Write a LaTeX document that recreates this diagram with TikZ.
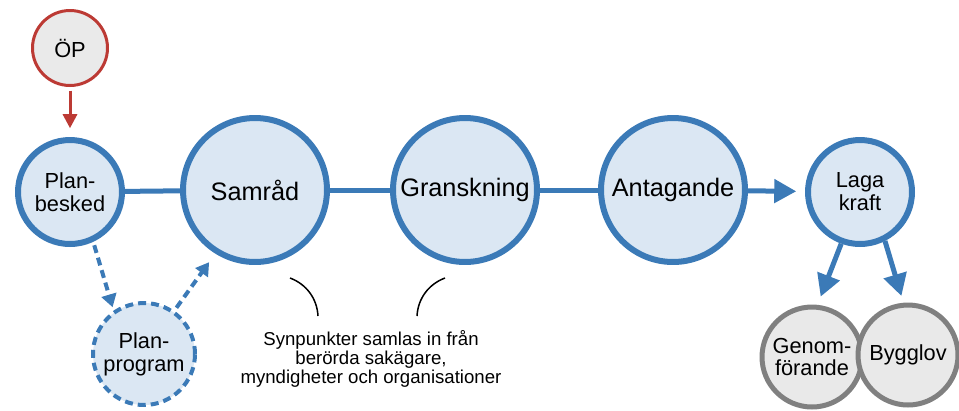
\documentclass[tikz,border=0pt]{standalone}
\usepackage{fontspec}
\setmainfont{Liberation Sans}
\usetikzlibrary{arrows.meta}
\definecolor{stepblue}{RGB}{59,122,183}
\definecolor{stepfill}{RGB}{219,231,243}
\definecolor{opred}{RGB}{188,58,52}
\definecolor{opfill}{RGB}{234,234,234}
\definecolor{endgray}{RGB}{128,128,128}
\definecolor{endfill}{RGB}{233,233,233}

\begin{document}
\begin{tikzpicture}[x=0.02cm, y=-0.02cm,
  stage/.style={circle, draw=stepblue, fill=stepfill, line width=0.12cm, inner sep=0pt, align=center},
  bigstage/.style={stage, minimum size=2.88cm, font=\fontsize{14.4}{15}\selectfont},
  smallstage/.style={stage, minimum size=2.08cm, font=\fontsize{12.4}{13}\selectfont},
  endstage/.style={circle, draw=endgray, fill=endfill, line width=0.1cm, inner sep=0pt, align=center, minimum size=2.0cm, font=\fontsize{12.4}{13}\selectfont},
  link/.style={draw=stepblue, line width=0.1cm},
  bluearr/.style={link, -{Triangle[length=0.44cm, width=0.46cm]}},
  dasharr/.style={draw=stepblue, line width=0.08cm, dash pattern=on 0.16cm off 0.1cm, -{Triangle[length=0.26cm, width=0.3cm]}}]
  \useasboundingbox (0,0) rectangle (959,410);
  \node[circle, draw=opred, fill=opfill, line width=0.06cm, minimum size=1.5cm, inner sep=0pt, font=\fontsize{12.4}{13}\selectfont] (op) at (70,48) {ÖP};
  \node[smallstage] (pb) at (70,192) {Plan-\\besked};
  \node[bigstage] (sam) at (255,190) {Samråd};
  \node[bigstage] (gra) at (465,190) {Granskning};
  \node[bigstage] (ant) at (673,190) {Antagande};
  \node[smallstage] (lk) at (860,192) {Laga\\kraft};
  \node[stage, line width=0.08cm, dash pattern=on 0.16cm off 0.1cm, minimum size=2.04cm, font=\fontsize{12.4}{13}\selectfont] (pp) at (144,354) {Plan-\\program};
  \node[endstage] (gen) at (812,357) {Genom-\\förande};
  \node[endstage] (byg) at (908,355) {Bygglov};
  \node[align=center, font=\fontsize{10.6}{10.9}\selectfont] (note) at (371,359) {Synpunkter samlas in från\\berörda sakägare,\\myndigheter och organisationer};
  \coordinate (ls) at (290,278);
  \coordinate (le) at (318,316);
  \coordinate (rs) at (445,278);
  \coordinate (re) at (417,316);
  \draw[link] (pb) -- (sam);
  \draw[link] (sam) -- (gra);
  \draw[link] (gra) -- (ant);
  \draw[bluearr, shorten >=5pt] (ant) -- (lk);
  \draw[bluearr, shorten >=5pt] (lk.-110) -- (gen.84);
  \draw[bluearr, shorten >=4pt] (lk.-63) -- (byg.95);
  \draw[opred, line width=0.06cm, -{Triangle[length=0.28cm, width=0.28cm]}, shorten <=2pt, shorten >=5pt] (op) -- (pb);
  \draw[dasharr, shorten <=2pt, shorten >=2pt] (pb.-65) -- (pp.125);
  \draw[dasharr, shorten <=2pt, shorten >=6pt] (pp.55) -- (sam.-122);
  \draw[line width=0.03cm] (ls) .. controls (306,284) and (317,298) .. (le);
  \draw[line width=0.03cm] (rs) .. controls (429,284) and (418,298) .. (re);
\end{tikzpicture}
\end{document}
